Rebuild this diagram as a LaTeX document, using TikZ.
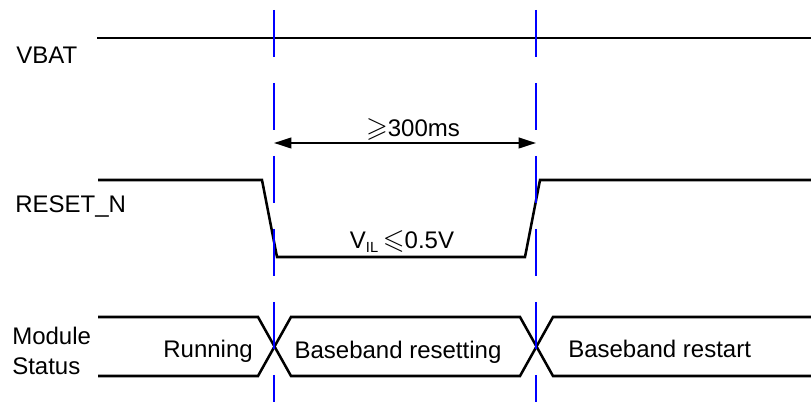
\documentclass[tikz,border=0pt]{standalone}
\usepackage{fontspec}
\usepackage{amssymb}
\setmainfont{Liberation Sans}
\usetikzlibrary{arrows.meta}
\newcommand{\bigleq}{{\fontsize{21}{22}\selectfont$\leqslant$}}
\newcommand{\biggeq}{{\fontsize{21}{22}\selectfont$\geqslant$}}
\begin{document}
\begin{tikzpicture}[x=0.75pt,y=-0.75pt,
  sig/.style={line width=1.9pt, line join=miter},
  guide/.style={blue, line width=1.4pt, dash pattern=on 35.25pt off 19.5pt},
  lbl/.style={font=\fontsize{18}{20}\selectfont, inner sep=0pt},
  dim/.style={line width=1.4pt, {Triangle[length=13pt,width=8pt]}-{Triangle[length=13pt,width=8pt]}},
]
\useasboundingbox (0,0) rectangle (811,402);
% VBAT
\node[lbl, anchor=base west] (vbat) at (16,64) {VBAT};
\draw[sig] (97,38) -- (811,38);
% RESET_N
\node[lbl, anchor=base west] (rst) at (15,213) {RESET\_N};
\draw[sig] (98,180) -- (262,180) -- (277,257) -- (525,257) -- (540,180) -- (811,180);
% Module status
\node[lbl, anchor=base west] (mod) at (12,345) {Module};
\node[lbl, anchor=base west] (sta) at (12,375) {Status};
\draw[sig] (98,317) -- (258,317) -- (291,376) -- (520,376) -- (553,317) -- (811,317);
\draw[sig] (98,376) -- (258,376) -- (291,317) -- (520,317) -- (553,376) -- (811,376);
\node[lbl, anchor=base east] (run) at (253,358) {Running};
\node[lbl, anchor=base] (bres) at (398,359) {Baseband resetting};
\node[lbl, anchor=base west] (brst) at (568,358) {Baseband restart};
% timing annotations
\coordinate (a1) at (274,143);
\coordinate (a2) at (536,143);
\draw[dim] (a1) -- (a2);
\node[lbl, anchor=base] (t300) at (413,137) {\biggeq300ms};
\node[lbl, anchor=base] (vil) at (402,249) {V\textsubscript{\fontsize{11}{12}\selectfont IL}\,\bigleq0.5V};
% guides
\draw[guide] (274,10) -- (274,402);
\draw[guide] (536,10) -- (536,402);
\end{tikzpicture}
\end{document}
